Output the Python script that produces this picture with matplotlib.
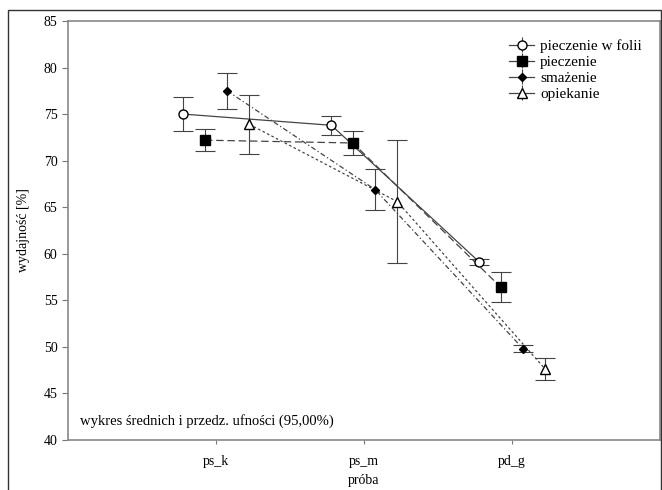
import matplotlib
matplotlib.use('Agg')
import matplotlib.pyplot as plt
from matplotlib.patches import Rectangle

plt.rcParams['font.family'] = ['Liberation Serif', 'DejaVu Serif']

# Data
categories = ['ps_k', 'ps_m', 'pd_g']
series_names = ['pieczenie w folii', 'pieczenie', 'smażenie', 'opiekanie']
folia_mean = [75.0, 73.8, 59.1]
folia_ci = [1.8, 1.0, 0.3]
pieczenie_mean = [72.2, 71.9, 56.4]
pieczenie_ci = [1.2, 1.3, 1.6]
smazenie_mean = [77.5, 66.9, 49.8]
smazenie_ci = [1.9, 2.2, 0.4]
opiekanie_mean = [73.9, 65.6, 47.6]
opiekanie_ci = [3.2, 6.6, 1.2]

means = [folia_mean, pieczenie_mean, smazenie_mean, opiekanie_mean]
cis = [folia_ci, pieczenie_ci, smazenie_ci, opiekanie_ci]

# Styles per series
offsets = [-0.22, -0.075, 0.075, 0.225]
markers = ['o', 's', 'D', '^']
faces = ['white', 'black', 'black', 'white']
msizes = [6.5, 7, 4.5, 7]
lstyles = ['-', (0, (6, 3)), (0, (4, 2, 1, 2)), (0, (2, 2))]

fig = plt.figure(figsize=(6.62, 4.9), dpi=100)
ax = fig.add_axes([68 / 662, 1 - 440 / 490, 592 / 662, 419 / 490])

x = [1, 2, 3]
for i in range(4):
    xs = [v + offsets[i] for v in x]
    ax.errorbar(xs, means[i], yerr=cis[i], fmt='none', ecolor='#444444',
                elinewidth=0.8, capsize=7, capthick=0.8, zorder=2)
    ax.plot(xs, means[i], linestyle=lstyles[i], color='#444444', linewidth=0.9,
            zorder=1)
    ax.plot(xs, means[i], linestyle='none', marker=markers[i], markersize=msizes[i],
            markerfacecolor=faces[i], markeredgecolor='black', markeredgewidth=1.0,
            zorder=3)

# legend with errorbar-style handles
handles = []
for i in range(4):
    h = ax.errorbar([], [], yerr=[], fmt=markers[i], color='#444444',
                    markersize=msizes[i], markerfacecolor=faces[i],
                    markeredgecolor='black', linestyle='-', linewidth=0.9,
                    capsize=5, elinewidth=0.8)
    handles.append(h)
leg = ax.legend(handles, series_names, loc='upper right', frameon=False,
                fontsize=11, handlelength=1.6, handletextpad=0.4,
                labelspacing=0.15, borderaxespad=0.8)

ax.set_xlim(0, 4)
ax.set_ylim(40, 85)
ax.set_xticks(x)
ax.set_xticklabels(categories, fontsize=10)
ax.set_yticks(range(40, 86, 5))
ax.tick_params(axis='y', labelsize=10, length=4, width=0.8, color='#777777')
ax.tick_params(axis='x', length=3, width=0.8, color='#777777', pad=8)
for s in ax.spines.values():
    s.set_color('#888888')
    s.set_linewidth(1.2)

ax.set_ylabel('wydajność [%]', fontsize=10, labelpad=10)
ax.set_xlabel('próba', fontsize=10, labelpad=4)

ax.text(0.02, 0.045, 'wykres średnich i przedz. ufności (95,00%)',
        transform=ax.transAxes, fontsize=10.5, ha='left', va='center')

# outer frame of the scanned page
fig.patches.append(Rectangle((8 / 662, -0.05), 653 / 662, 1.05 - 10 / 490,
                             transform=fig.transFigure, fill=False,
                             edgecolor='#333333', linewidth=1.0))

fig.savefig('out.png', dpi=100)
